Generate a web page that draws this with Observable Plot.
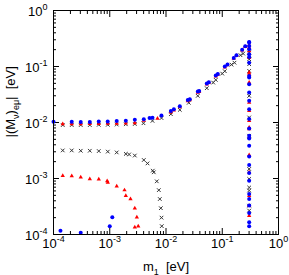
<!DOCTYPE html>
<html><head><meta charset="utf-8">
<script src="https://cdn.jsdelivr.net/npm/d3@7"></script>
<script src="https://cdn.jsdelivr.net/npm/@observablehq/plot@0.6"></script>
<style>
html,body{margin:0;padding:0;background:#fff}
#chart svg{display:block}
</style>
</head><body><div id="chart"></div>
<script>
// ---- tick values and labels ----
const majorTicks = [1e-4, 1e-3, 1e-2, 1e-1, 1];
const majorLabels = ["10^{-4}", "10^{-3}", "10^{-2}", "10^{-1}", "10^{0}"];
const xTitle = "m_{1}\u00a0 [eV]";
const yTitle = "|(M_{\u03bd})_{e\u03bc}|\u00a0 [eV]";

// ---- black crosses: [m1, |M|] ----
const crossMain = [
  [1.46e-4,0.0090],[2.11e-4,0.0090],[3.05e-4,0.0090],[4.42e-4,0.0090],[6.38e-4,0.0091],
  [9.23e-4,0.0091],[1.33e-3,0.0092],[1.93e-3,0.0093],[2.79e-3,0.0094],[3.98e-3,0.0097],
  [5.75e-3,0.0107],[8.32e-3,0.0120],[0.0122,0.0141],[0.0176,0.0168],[0.0254,0.0225],
  [0.0367,0.0299],[0.0531,0.0410],[0.069,0.0516],[0.0767,0.0577],[0.0998,0.0747],
  [0.111,0.0824],[0.146,0.108],[0.165,0.117],[0.211,0.159],[0.235,0.170]
];
const crossCut = [
  [0.301,0.177],[0.301,0.155],[0.301,0.135],[0.301,0.110],[0.301,0.0835],[0.301,0.0299],
  [0.301,0.0123],[0.301,0.0058],[0.301,0.00148],[0.301,0.00098],[0.301,0.00069],
  [0.301,0.00061],[0.301,0.000327],[0.301,0.000267]
];
const crossLow = [
  [1.46e-4,3.17e-3],[2.11e-4,3.17e-3],[3.05e-4,3.13e-3],[4.42e-4,3.13e-3],[6.38e-4,3.09e-3],
  [9.23e-4,3.02e-3],[1.33e-3,2.92e-3],[1.93e-3,2.75e-3],[2.21e-3,2.69e-3],[2.79e-3,2.57e-3],
  [4.03e-3,2.14e-3],[4.69e-3,1.86e-3],[5.82e-3,1.38e-3],[6.07e-3,1.29e-3],[6.86e-3,8.9e-4],
  [7.45e-3,6.2e-4],[7.76e-3,4.3e-4],[8.09e-3,2.95e-4],[8.32e-3,2.0e-4],[8.41e-3,1.41e-4]
];

// ---- red triangles ----
const triMain = [
  [1.46e-4,0.0094],[2.11e-4,0.0094],[3.05e-4,0.0094],[4.42e-4,0.0095],[6.38e-4,0.0095],
  [9.23e-4,0.0096],[1.33e-3,0.0096],[1.93e-3,0.0097],[2.79e-3,0.0098],[4.03e-3,0.0108],
  [7.06e-3,0.0118],[0.0122,0.0152],[0.0138,0.0166],[0.0176,0.0190],[0.0244,0.0243],
  [0.0265,0.0252],[0.0368,0.0345],[0.0389,0.0355],[0.0531,0.0480],[0.0577,0.0510],
  [0.0767,0.0670],[0.0834,0.0720],[0.111,0.097],[0.124,0.106],[0.160,0.139],
  [0.179,0.155],[0.226,0.196],[0.256,0.226]
];
const triCut = [
  [0.301,0.243],[0.301,0.217],[0.301,0.190],[0.301,0.144],[0.301,0.0778],[0.301,0.0729],
  [0.301,0.0516],[0.301,0.0227],[0.301,0.0162],[0.301,0.0107],[0.301,0.00815],[0.301,0.00762],
  [0.301,0.0054],[0.301,0.00262],[0.301,0.00129],[0.301,0.000493],[0.301,0.000327],[0.301,0.000217]
];
const triLow = [
  [1.46e-4,1.12e-3],[2.11e-4,1.11e-3],[3.05e-4,1.05e-3],[4.42e-4,9.8e-4],[6.38e-4,9.7e-4],
  [9.0e-4,9.0e-4],[9.23e-4,8.5e-4],[1.33e-3,7.3e-4],[1.83e-3,6.2e-4],[1.93e-3,4.9e-4],
  [2.34e-3,4.3e-4],[2.79e-3,2.95e-4],[3.03e-3,2.04e-4],[2.79e-3,1.35e-4],[3.21e-3,1.41e-4]
];

// ---- blue circles ----
const dotMain = [
  [1.0e-4,0.0103],[2.11e-4,0.0103],[3.05e-4,0.0102],[4.42e-4,0.0102],[6.38e-4,0.0104],
  [9.2e-4,0.0104],[1.33e-3,0.0106],[1.93e-3,0.0107],[2.79e-3,0.0112],[4.03e-3,0.0114],
  [5.1e-3,0.0120],[5.75e-3,0.0121],[8.3e-3,0.0133],[0.0122,0.0160],[0.0138,0.0173],
  [0.0176,0.0196],[0.0244,0.0251],[0.0265,0.0261],[0.0368,0.0357],[0.0389,0.0367],
  [0.0531,0.0496],[0.0577,0.0525],[0.0767,0.0689],[0.0834,0.0738],[0.111,0.0996],
  [0.124,0.109],[0.160,0.142],[0.179,0.159],[0.226,0.200],[0.256,0.230]
];
const dotCut = [
  [0.301,0.275],[0.301,0.267],[0.301,0.233],[0.301,0.203],[0.301,0.166],[0.301,0.148],
  [0.301,0.117],[0.301,0.068],[0.301,0.0634],[0.301,0.0483],[0.301,0.0342],[0.301,0.0244],
  [0.301,0.0173],[0.301,0.0115],[0.301,0.00782],[0.301,0.00579],[0.301,0.00519],[0.301,0.00384],
  [0.301,0.00248],[0.301,0.00174],[0.301,0.00125],[0.301,0.000914],[0.301,0.00053],
  [0.301,0.000431],[0.301,0.000328],[0.301,0.000243],[0.301,0.000165],[0.301,0.00014]
];
const dotLow = [[1.33e-4,1.17e-4],[3.05e-4,1.07e-4],[1.0e-3,1.41e-4],[1.11e-3,2.04e-4]];

// ---- build ----
const crosses = [...crossMain, ...crossCut, ...crossLow];
const triangles = [...triMain, ...triCut, ...triLow];
const circles = [...dotMain, ...dotCut, ...dotLow];
const minorTicks = [];
for (let e = -4; e < 0; e++) for (let k = 2; k <= 9; k++) minorTicks.push(k * Math.pow(10, e));
const fmt = d => majorLabels[majorTicks.indexOf(d)];
const blank = () => "";
const FONT = 13;

const chart = Plot.plot({
  width: 289, height: 275,
  marginLeft: 53, marginRight: 11, marginTop: 10, marginBottom: 41,
  style: {fontFamily: "'Liberation Sans', Arial, Helvetica, sans-serif", background: "#fff", color: "#000"},
  x: {type: "log", domain: [1e-4, 1]},
  y: {type: "log", domain: [1e-4, 1]},
  marks: [
    // inward ticks on all four sides
    Plot.axisX(majorTicks, {anchor: "bottom", tickSize: -6, tickFormat: blank, label: null}),
    Plot.axisX(majorTicks, {anchor: "top", tickSize: -6, tickFormat: blank, label: null}),
    Plot.axisX(minorTicks, {anchor: "bottom", tickSize: -3, tickFormat: blank, label: null}),
    Plot.axisX(minorTicks, {anchor: "top", tickSize: -3, tickFormat: blank, label: null}),
    Plot.axisY(majorTicks, {anchor: "left", tickSize: -6, tickFormat: blank, label: null}),
    Plot.axisY(majorTicks, {anchor: "right", tickSize: -6, tickFormat: blank, label: null}),
    Plot.axisY(minorTicks, {anchor: "left", tickSize: -3, tickFormat: blank, label: null}),
    Plot.axisY(minorTicks, {anchor: "right", tickSize: -3, tickFormat: blank, label: null}),
    // tick labels
    Plot.axisX(majorTicks, {anchor: "bottom", tickSize: 0, tickPadding: 4, tickFormat: fmt, fontSize: FONT, label: null}),
    Plot.axisY(majorTicks, {anchor: "left", tickSize: 0, tickPadding: 6, tickFormat: fmt, fontSize: FONT, dy: 1, label: null}),
    // axis titles
    Plot.text([xTitle], {text: d => d, frameAnchor: "bottom", dy: 36, lineAnchor: "bottom", fontSize: FONT}),
    Plot.text([yTitle], {text: d => d, frameAnchor: "left", dx: -43, dy: 15, rotate: -90, fontSize: FONT}),
    // data
    Plot.dot(crosses, {x: d => d[0], y: d => d[1], symbol: "times", r: 1.8, stroke: "#333", strokeWidth: 1}),
    Plot.dot(triangles, {x: d => d[0], y: d => d[1], symbol: "triangle", r: 1.6, fill: "#ff0000", stroke: null}),
    Plot.dot(circles, {x: d => d[0], y: d => d[1], symbol: "circle", r: 2, fill: "#0000ff", stroke: null}),
    Plot.frame({stroke: "#000", strokeWidth: 1})
  ]
});

// rich text: ^{..} superscripts and _{..} subscripts
function rich(el) {
  const s = el.textContent;
  if (!/[_^]\{/.test(s)) return;
  const fs = parseFloat(el.getAttribute("font-size") || getComputedStyle(el).fontSize) || FONT;
  const small = Math.round(fs * 0.72);
  const sup = -Math.round(fs * 0.45), sub = Math.round(fs * 0.3);
  el.textContent = "";
  let cur = 0, m;
  const re = /([_^])\{([^}]*)\}|([^_^]+)/g;
  while ((m = re.exec(s))) {
    const t = document.createElementNS("http://www.w3.org/2000/svg", "tspan");
    let target = 0;
    if (m[1]) { target = m[1] === "^" ? sup : sub; t.textContent = m[2]; t.setAttribute("font-size", small); }
    else t.textContent = m[3];
    if (target !== cur) { t.setAttribute("dy", target - cur); cur = target; }
    el.appendChild(t);
  }
}
document.getElementById("chart").appendChild(chart);
chart.querySelectorAll("text").forEach(rich);
</script>
</body></html>
